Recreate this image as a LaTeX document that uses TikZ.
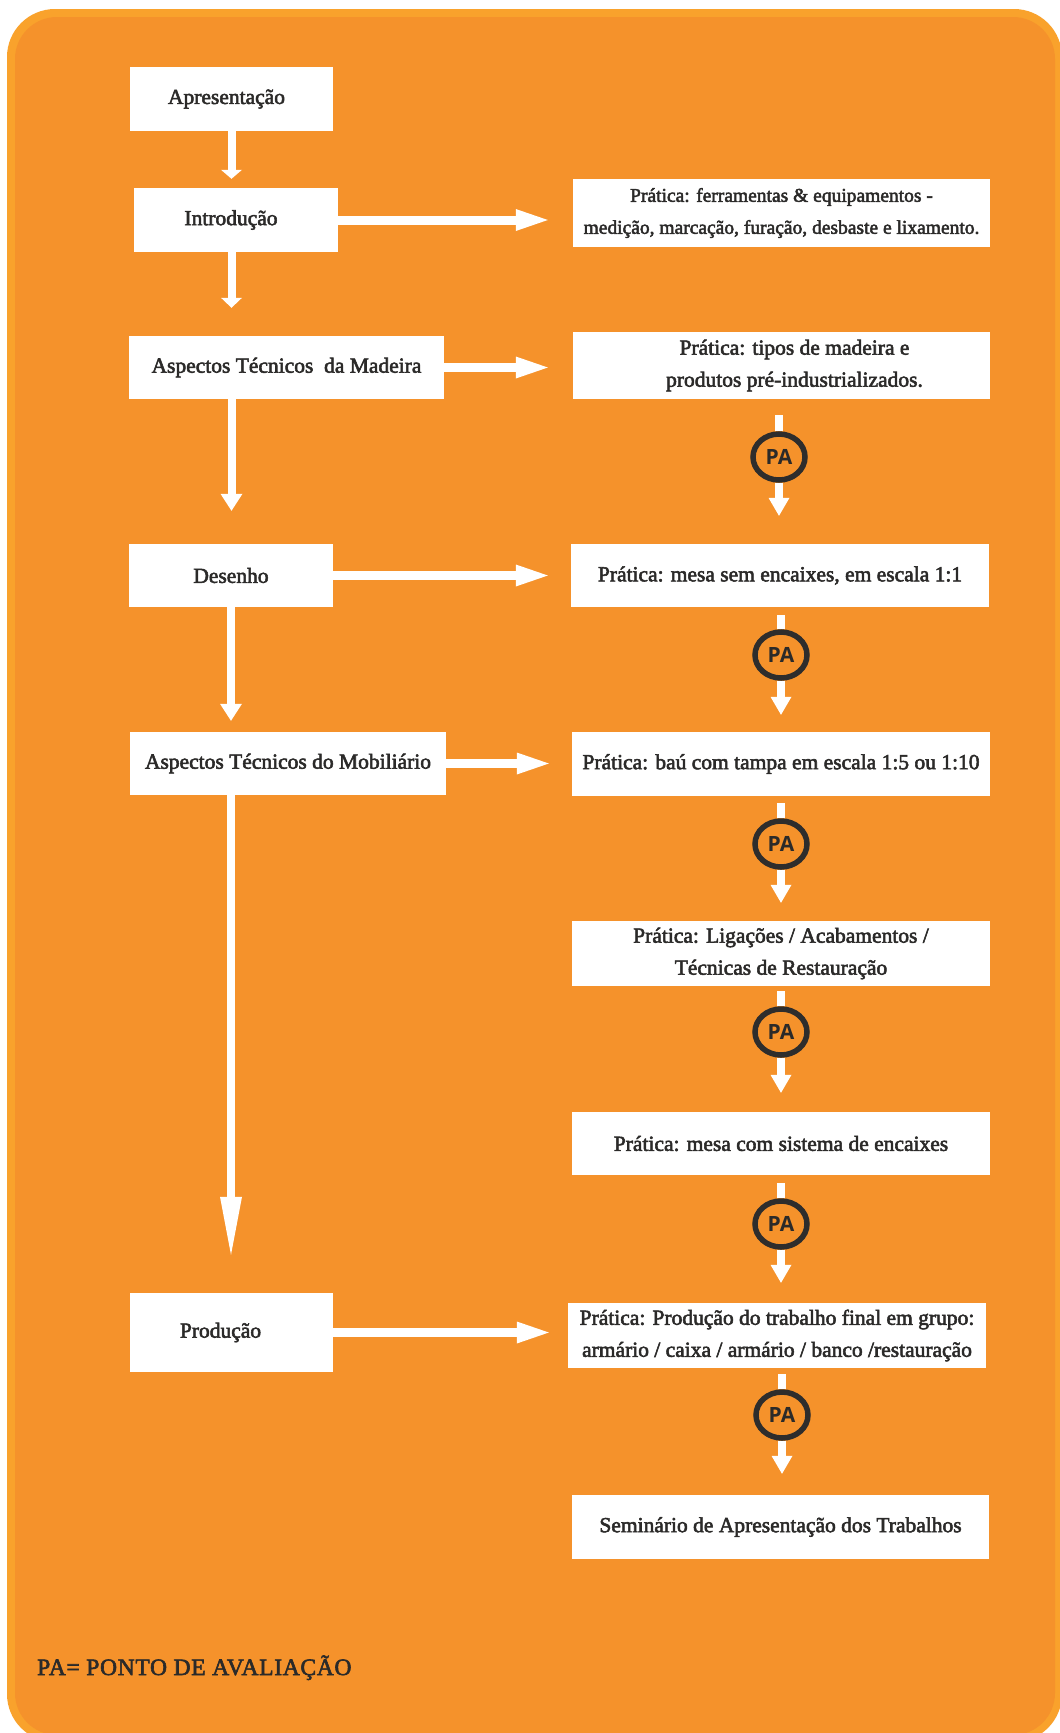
\documentclass[tikz,border=0pt]{standalone}
\usepackage{fontspec}
\setmainfont{Liberation Serif}
\newfontfamily\garfont{Liberation Serif}[FakeBold=2.5]
\newfontfamily\legfont{Liberation Serif}[FakeBold=2.5,LetterSpace=3]
\newfontfamily\pafont{Open Sans}
\usetikzlibrary{arrows.meta,shapes.geometric}
\definecolor{cardbg}{HTML}{F5922B}
\definecolor{cardedge}{HTML}{F9A22C}
\definecolor{ink}{HTML}{2B2A29}
\definecolor{paring}{HTML}{2E2D2C}
\tikzset{
  box/.style={fill=white, inner sep=0pt, text=ink, align=center,
    font=\garfont\fontsize{21.5}{32}\selectfont},
  pamark/.style={ellipse, draw=paring, line width=5.5pt, fill=cardbg,
    minimum width=52pt, minimum height=46pt, inner sep=0pt, text=ink,
    font=\pafont\bfseries\fontsize{21}{21}\selectfont},
  harrow/.style={draw=white, line width=9pt,
    -{Triangle[width=22pt,length=32pt,line width=0pt]}},
  varrow/.style n args={2}{draw=white, line width=8pt,
    -{Triangle[width=#1,length=#2,line width=0pt]}},
  shaft/.style={draw=white, line width=8pt},
}
\begin{document}
\begin{tikzpicture}[x=1pt,y=-1pt]
\useasboundingbox (0,0) rectangle (1060,1733);
\fill[white] (0,0) rectangle (1060,1733);
\fill[cardedge, rounded corners=48pt] (7,9) rectangle (1062,1742);
\fill[cardbg, rounded corners=42pt] (15,17) rectangle (1055,1735);

% left column
\node[box, minimum width=203pt, minimum height=64pt] (apr) at (231.5,99) {Apresentação\hspace*{10pt}};
\node[box, minimum width=204pt, minimum height=64pt] (intro) at (236,220) {Introdução\hspace*{10pt}};
\node[box, minimum width=315pt, minimum height=63pt] (mad) at (286.5,367.5) {Aspectos Técnicos\ \ da Madeira};
\node[box, minimum width=204pt, minimum height=63pt] (des) at (231,575.5) {Desenho};
\node[box, minimum width=316pt, minimum height=63pt] (mob) at (288,763.5) {Aspectos Técnicos do Mobiliário};
\node[box, minimum width=203pt, minimum height=79pt] (prod) at (231.5,1332.5) {Produção\hspace*{22pt}};

% right column
\node[box, minimum width=417pt, minimum height=68pt,
  font=\garfont\fontsize{19.5}{32}\selectfont] (p1) at (781.5,213)
  {Prática: ferramentas \& equipamentos -\\medição, marcação, furação, desbaste e lixamento.};
\node[box, minimum width=417pt, minimum height=67pt] (p2) at (781.5,365.5)
  {\hspace*{26pt}Prática: tipos de madeira e\\\hspace*{26pt}produtos pré-industrializados.};
\node[box, minimum width=418pt, minimum height=63pt] (p3) at (780,575.5)
  {Prática: mesa sem encaixes, em escala 1:1};
\node[box, minimum width=418pt, minimum height=64pt] (p4) at (781,764)
  {Prática: baú com tampa em escala 1:5 ou 1:10};
\node[box, minimum width=418pt, minimum height=65pt] (p5) at (781,953.5)
  {Prática: Ligações / Acabamentos /\\Técnicas de Restauração};
\node[box, minimum width=418pt, minimum height=63pt] (p6) at (781,1143.5)
  {Prática: mesa com sistema de encaixes};
\node[box, minimum width=418pt, minimum height=65pt] (p7) at (777,1335.5)
  {Prática: Produção do trabalho final em grupo:\\armário / caixa / armário / banco /restauração};
\node[box, minimum width=417pt, minimum height=64pt] (p8) at (780.5,1527)
  {Seminário de Apresentação dos Trabalhos};

% PA marks
\node[pamark] (pa1) at (779,457) {PA};
\node[pamark] (pa2) at (781,655) {PA};
\node[pamark] (pa3) at (781,844) {PA};
\node[pamark] (pa4) at (781,1032) {PA};
\node[pamark] (pa5) at (781,1224) {PA};
\node[pamark] (pa6) at (782,1415) {PA};

% left vertical arrows
\draw[varrow={21pt}{9pt}, shorten >=9pt] (apr) -- (intro.north -| apr);
\draw[varrow={21pt}{10pt}, shorten >=28pt] (intro.south -| apr) -- (mad.north -| apr);
\draw[varrow={22pt}{17pt}, shorten >=33pt] (mad.south -| apr) -- (des.north -| apr);
\draw[varrow={22pt}{17pt}, shorten >=11pt] (des) -- (mob.north -| des);
\draw[varrow={22pt}{58pt}, shorten >=38pt] (mob.south -| des) -- (prod.north -| des);

% horizontal arrows
\draw[harrow, shorten >=25pt] (intro) -- (intro -| p1.west);
\draw[harrow, shorten >=25pt] (mad) -- (mad -| p2.west);
\draw[harrow, shorten >=23pt] (des) -- (des -| p3.west);
\draw[harrow, shorten >=23pt] (mob) -- (mob -| p4.west);
\draw[harrow, shorten >=19pt] (prod) -- (prod -| p7.west);

% right column arrows through PA
\draw[shaft, shorten <=16pt] (p2.south -| pa1) -- (pa1);
\draw[varrow={21pt}{18pt}, shorten >=28pt] (pa1) -- (pa1 |- p3.north);
\draw[shaft, shorten <=8pt] (p3.south -| pa2) -- (pa2);
\draw[varrow={21pt}{18pt}, shorten >=17pt] (pa2) -- (pa2 |- p4.north);
\draw[shaft, shorten <=7pt] (p4.south -| pa3) -- (pa3);
\draw[varrow={21pt}{18pt}, shorten >=18pt] (pa3) -- (pa3 |- p5.north);
\draw[shaft, shorten <=5pt] (p5.south -| pa4) -- (pa4);
\draw[varrow={21pt}{18pt}, shorten >=19pt] (pa4) -- (pa4 |- p6.north);
\draw[shaft, shorten <=8pt] (p6.south -| pa5) -- (pa5);
\draw[varrow={21pt}{18pt}, shorten >=20pt] (pa5) -- (pa5 |- p7.north);
\draw[shaft, shorten <=6pt] (p7.south -| pa6) -- (pa6);
\draw[varrow={21pt}{18pt}, shorten >=21pt] (pa6) -- (pa6 |- p8.north);

% legend
\node[anchor=base west, inner sep=0pt, text=ink,
  font=\legfont\fontsize{23.5}{23.5}\selectfont] (legend) at (37,1675)
  {PA= PONTO DE AVALIAÇÃO};
\end{tikzpicture}
\end{document}
